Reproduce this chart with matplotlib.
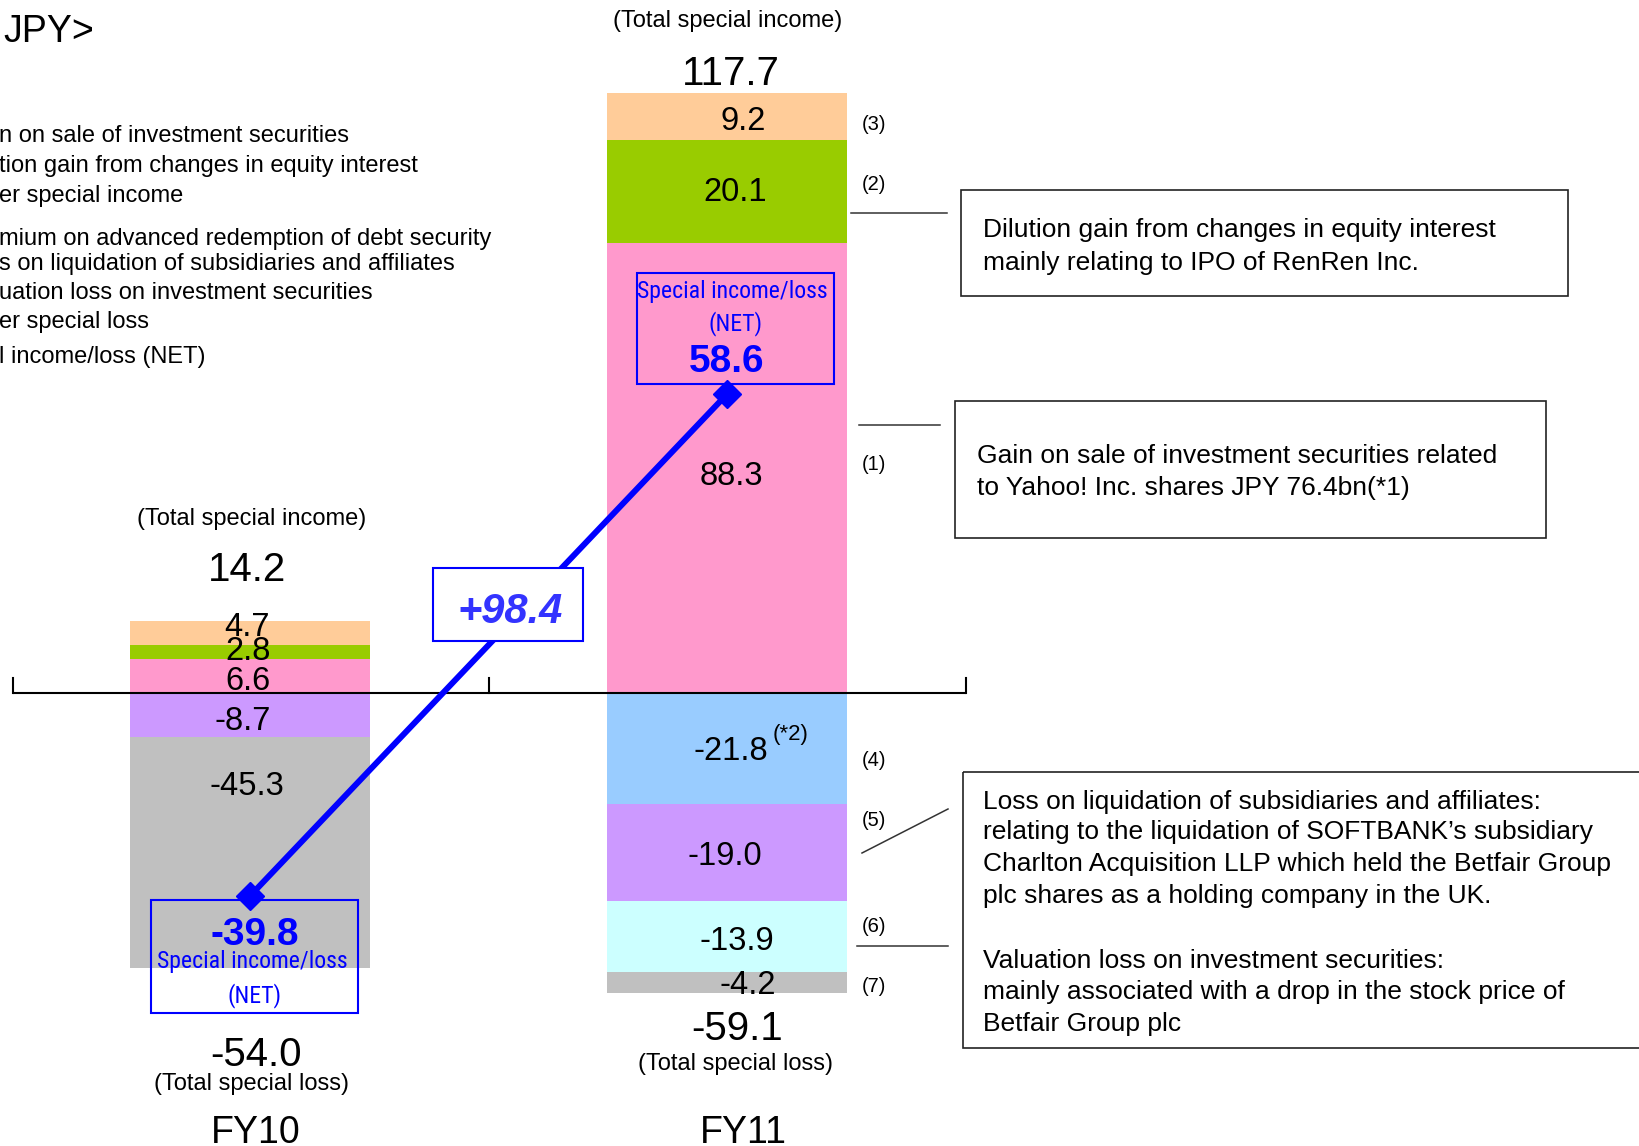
import matplotlib
matplotlib.use("Agg")
import matplotlib.pyplot as plt
from matplotlib.patches import Rectangle
from matplotlib import font_manager
from matplotlib.font_manager import FontProperties

# ---------------- data ----------------
periods = ["FY10", "FY11"]
segment_tags = ["(1)", "(2)", "(3)", "(4)", "(5)", "(6)", "(7)"]
segment_colors = ["#FF99CC", "#99CC00", "#FFCC99", "#99CCFF", "#CC99FF", "#CCFFFF", "#C0C0C0"]
fy10_values = [6.6, 2.8, 4.7, 0.0, -8.7, 0.0, -45.3]
fy11_values = [88.3, 20.1, 9.2, -21.8, -19.0, -13.9, -4.2]
total_income = [14.2, 117.7]
total_loss = [-54.0, -59.1]
net_income_loss = [-39.8, 58.6]
net_change_label = "+98.4"

legend_lines = [
    "n on sale of investment securities",
    "tion gain from changes in equity interest",
    "er special income",
    "mium on advanced redemption of debt security",
    "s on liquidation of subsidiaries and affiliates",
    "uation loss on investment securities",
    "er special loss",
    "l income/loss (NET)",
]
note_dilution = ["Dilution gain from changes in equity interest",
                 "mainly relating to IPO of RenRen Inc."]
note_yahoo = ["Gain on sale of investment securities related",
              "to Yahoo! Inc. shares JPY 76.4bn(*1)"]
note_losses = ["Loss on liquidation of subsidiaries and affiliates:",
               "relating to the liquidation of SOFTBANK\u2019s subsidiary",
               "Charlton Acquisition LLP which held the Betfair Group",
               "plc shares as a holding company in the UK.",
               "",
               "Valuation loss on investment securities:",
               "mainly associated with a drop in the stock price of",
               "Betfair Group plc"]

# ---------------- layout ----------------
W, H = 1639, 1146
ZERO_PX = 693.0
PX_PER_UNIT = 5.1
bar_x = [250, 727]
bar_w = 240

names = {f.name for f in font_manager.fontManager.ttflist}
SANS = "Liberation Sans" if "Liberation Sans" in names else "DejaVu Sans"


def find_narrow():
    prefs = ["liberationsansnarrow-regular", "liberationsansnarrow", "arialnarrow",
             "robotocondensed-regular", "notosans-condensed.", "notosans-condensed",
             "opensans-condensed", "dejavusanscondensed."]
    files = [f.fname for f in font_manager.fontManager.ttflist]
    for p in prefs:
        for fn in files:
            base = fn.replace("\\", "/").split("/")[-1].lower().replace(" ", "").replace("_", "")
            if base.startswith(p.replace("_", "")) and not any(
                    k in base for k in ["bold", "italic", "oblique", "light", "thin", "medium", "black", "semi", "extra"]):
                return FontProperties(fname=fn)
    return FontProperties(family=SANS)


NARROW_FP = find_narrow()

fig = plt.figure(figsize=(W / 100, H / 100), dpi=100)
ax = fig.add_axes([0, 0, 1, 1])
ax.set_xlim(0, W)
ax.set_ylim((ZERO_PX - H) / PX_PER_UNIT, ZERO_PX / PX_PER_UNIT)
ax.axis("off")

ov = fig.add_axes([0, 0, 1, 1])
ov.set_xlim(0, W)
ov.set_ylim(H, 0)
ov.axis("off")
ov.patch.set_visible(False)

# ---------------- stacked bars ----------------
label_dx = [[-2, -2, -3, 0, -7, 0, -3], [4, 8, 16, 4, -2, 10, 21]]
label_dy = [[2.5, -3.5, -8.5, 0, 3.5, 0, -70], [5.5, -2.4, 1.3, 0, 0.5, 1.5, -0.5]]


def ctext(x, yc, s, size, **kw):
    """place text so that cap/digit centre sits at pixel yc"""
    base = yc + 0.358 * size * 100 / 72
    kw.setdefault("family", SANS)
    return ov.text(x, base, s, fontsize=size, ha=kw.pop("ha", "center"), va="baseline", **kw)


for i, vals in enumerate([fy10_values, fy11_values]):
    pos, neg = 0.0, 0.0
    for j, v in enumerate(vals):
        if v == 0:
            continue
        if v > 0:
            bottom = pos
            pos += v
        else:
            bottom = neg
            neg += v
        ax.bar(bar_x[i], v, bottom=bottom, width=bar_w, color=segment_colors[j],
               linewidth=0, zorder=2)
        mid_val = bottom + v / 2
        yc = ZERO_PX - mid_val * PX_PER_UNIT + label_dy[i][j]
        ctext(bar_x[i] + label_dx[i][j], yc, f"{v:.1f}", 23.5)

# superscript on FY11 (4)
ov.text(773, 740, "(*2)", fontsize=16, family=SANS, ha="left", va="baseline")

# zero axis line with ticks
ax.plot([12.5, 966], [0, 0], color="black", lw=1.5, zorder=4, solid_capstyle="butt")
for tx in [12.5, 489, 966]:
    ax.plot([tx, tx], [0, 15 / PX_PER_UNIT], color="black", lw=1.5, zorder=4)

# net line
ax.plot(bar_x, net_income_loss, color="#0000FF", lw=4.3, marker="D", ms=14.5,
        zorder=5, solid_capstyle="butt")

# ---------------- totals & period labels ----------------
ov.text(252, 525, "(Total special income)", fontsize=17, family=SANS, ha="center", va="baseline")
ov.text(728, 27, "(Total special income)", fontsize=17, family=SANS, ha="center", va="baseline")
ctext(247, 567, f"{total_income[0]:.1f}", 29)
ctext(731, 71, f"{total_income[1]:.1f}", 29)
ctext(256, 1052, f"{total_loss[0]:.1f}", 29)
ctext(737, 1026, f"{total_loss[1]:.1f}", 29)
ov.text(252, 1090, "(Total special loss)", fontsize=17, family=SANS, ha="center", va="baseline")
ov.text(736, 1070, "(Total special loss)", fontsize=17, family=SANS, ha="center", va="baseline")
ctext(256, 1130, periods[0], 27)
ctext(743, 1130, periods[1], 27)

# ---------------- NET boxes ----------------
ov.add_patch(Rectangle((151, 900), 207, 113, fill=False, edgecolor="#0000FF", lw=1.5, zorder=6))
ov.add_patch(Rectangle((637, 273), 197, 111, fill=False, edgecolor="#0000FF", lw=1.5, zorder=6))
ctext(255, 931.5, f"{net_income_loss[0]:.1f}", 28, color="#0000FF", weight="bold")
ctext(727, 358.5, f"{net_income_loss[1]:.1f}", 28, color="#0000FF", weight="bold")

narrow_texts = []
for (x, b, s) in [(252, 968, "Special income/loss"), (255, 1002, "(NET)"),
                  (732, 298, "Special income/loss"), (736, 330, "(NET)")]:
    fp = NARROW_FP.copy()
    fp.set_size(19)
    narrow_texts.append(ov.text(x, b, s, fontproperties=fp, color="#0000FF",
                                ha="center", va="baseline"))
# fit the narrow labels to the reference width (~191 px for "Special income/loss")
fig.canvas.draw()
r = fig.canvas.get_renderer()
wref = narrow_texts[0].get_window_extent(r).width
size = min(19.0, 19.0 * 191.0 / wref)
for t in narrow_texts:
    t.set_fontsize(size)

# change box
ov.add_patch(Rectangle((433, 568), 150, 73, facecolor="white", edgecolor="#0000FF", lw=1.5, zorder=6))
ctext(510, 608, net_change_label, 30, color="#3333FF", weight="bold", style="italic", zorder=7)

# ---------------- segment tags ----------------
tag_base = [469.5, 190.5, 130.5, 766, 826, 932, 992]
for t, b in zip(segment_tags, tag_base):
    ov.text(862, b, t, fontsize=14.5, family=SANS, ha="left", va="baseline")

# connectors
ov.plot([851, 947], [213, 213], color="#333333", lw=1.1)
ov.plot([859, 940], [425, 425], color="#333333", lw=1.1)
ov.plot([862, 948], [853, 809], color="#333333", lw=1.1)
ov.plot([857, 948], [946, 946], color="#333333", lw=1.1)

# ---------------- note boxes ----------------
ov.add_patch(Rectangle((961, 190), 607, 106, fill=False, edgecolor="#222222", lw=1.2))
for k, s in enumerate(note_dilution):
    ov.text(983, 236.5 + 33.5 * k, s, fontsize=19, family=SANS, ha="left", va="baseline")
ov.add_patch(Rectangle((955, 401), 591, 137, fill=False, edgecolor="#222222", lw=1.2))
for k, s in enumerate(note_yahoo):
    ov.text(977, 463 + 32 * k, s, fontsize=19, family=SANS, ha="left", va="baseline")
ov.add_patch(Rectangle((963, 772), 800, 276, fill=False, edgecolor="#222222", lw=1.2, clip_on=True))
loss_base = [809, 839.5, 871.5, 903, None, 967.5, 999, 1031]
for s, b in zip(note_losses, loss_base):
    if s:
        ov.text(983, b, s, fontsize=19, family=SANS, ha="left", va="baseline")

# ---------------- header & legend text ----------------
ov.text(3, 41.5, "JPY>", fontsize=27, family=SANS, ha="left", va="baseline")
legend_base = [141.7, 171.7, 201.7, 245, 270, 299, 328, 362.7]
for s, b in zip(legend_lines, legend_base):
    ov.text(-1, b, s, fontsize=17, family=SANS, ha="left", va="baseline")

fig.savefig("out.png", dpi=100)
